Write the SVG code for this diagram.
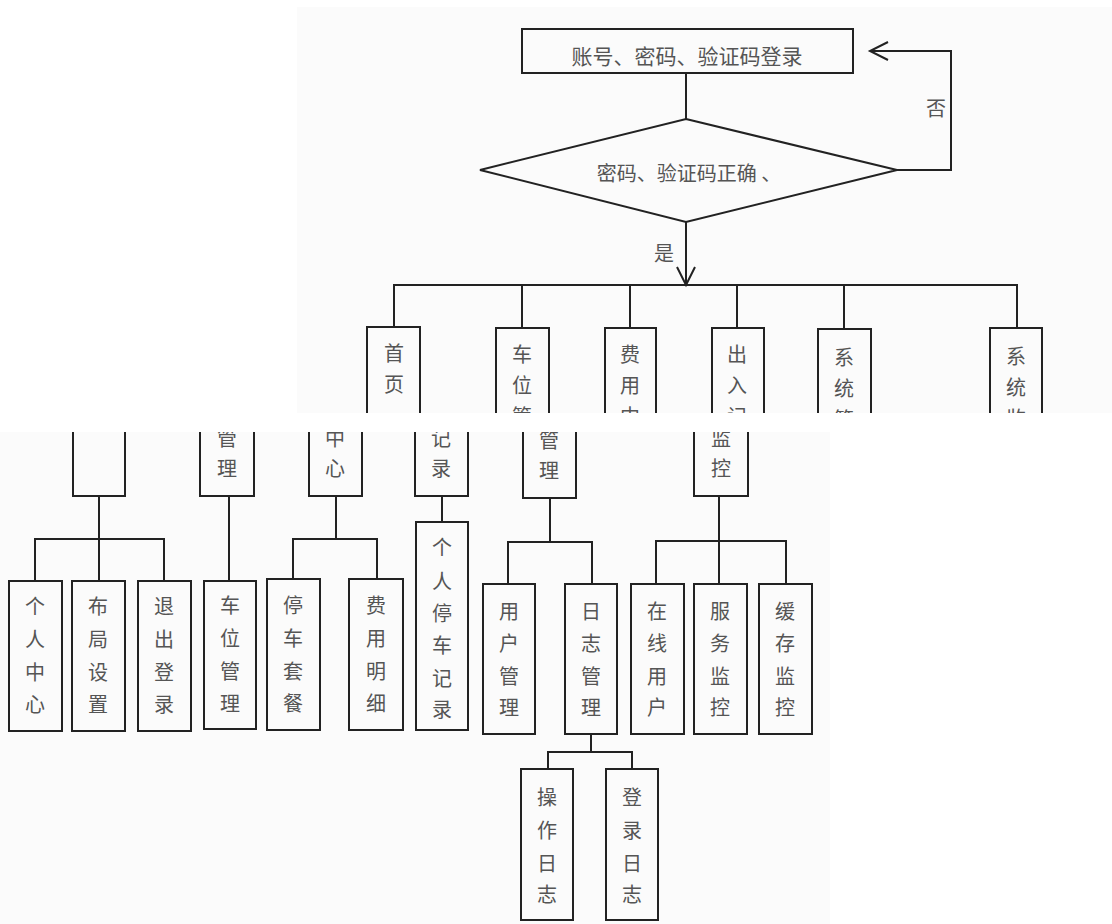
<svg xmlns="http://www.w3.org/2000/svg" width="1112" height="924" viewBox="0 0 1112 924">
<style>
.bx{fill:none;stroke:#222;stroke-width:2}
.ln{fill:none;stroke:#222;stroke-width:2}
.t{font-family:"Noto Sans CJK SC","Noto Sans",sans-serif;fill:#555;font-size:20px;text-anchor:middle;dominant-baseline:central}
.tl{font-size:21px}
</style>
<defs>
<clipPath id="cTop"><rect x="297" y="7" width="815" height="406"/></clipPath>
<clipPath id="cBot"><rect x="0" y="432" width="830" height="492"/></clipPath>
</defs>
<rect width="1112" height="924" fill="#fff"/>
<rect x="297" y="7" width="815" height="406" fill="#fbfbfb"/>
<rect x="0" y="432" width="830" height="492" fill="#fbfbfb"/>

<g clip-path="url(#cTop)">
<g id="connectors-top">
<line class="ln" x1="686" y1="73" x2="686" y2="119"/>
<polyline class="ln" points="897,170 951,170 951,51 871,51"/>
<path class="ln" d="M888,42 L870,51 L888,60"/>
<line class="ln" x1="686" y1="222" x2="686" y2="285"/>
<path class="ln" d="M677,267 L686,285 L695,267"/>
<polyline class="ln" points="394,327 394,285 1017,285 1017,328"/>
<line class="ln" x1="522" y1="285" x2="522" y2="328"/>
<line class="ln" x1="630" y1="285" x2="630" y2="328"/>
<line class="ln" x1="737" y1="285" x2="737" y2="328"/>
<line class="ln" x1="844" y1="285" x2="844" y2="329"/>
<text class="t" x="936" y="107">否</text>
<text class="t" x="664" y="252">是</text>
</g>
<g id="login">
<rect class="bx" x="522" y="29" width="331" height="44"/>
<text class="t tl" x="687" y="55">账号、密码、验证码登录</text>
</g>
<g id="check">
<polygon class="bx" points="686,119 897,170 686,222 480,170"/>
<text class="t" x="689" y="172">密码、验证码正确 、</text>
</g>
<g id="home-top">
<rect class="bx" x="367" y="327" width="53" height="120"/>
<text class="t" x="394" y="352">首</text><text class="t" x="394" y="383">页</text>
</g>
<g id="space-top">
<rect class="bx" x="496" y="328" width="53" height="120"/>
<text class="t" x="522" y="353">车</text><text class="t" x="522" y="384">位</text><text class="t" x="522" y="415">管</text>
</g>
<g id="fee-top">
<rect class="bx" x="605" y="328" width="51" height="120"/>
<text class="t" x="630" y="353">费</text><text class="t" x="630" y="384">用</text><text class="t" x="630" y="415">中</text>
</g>
<g id="inout-top">
<rect class="bx" x="712" y="328" width="52" height="120"/>
<text class="t" x="737" y="353">出</text><text class="t" x="737" y="384">入</text><text class="t" x="737" y="415">记</text>
</g>
<g id="sysmgr-top">
<rect class="bx" x="818" y="329" width="53" height="120"/>
<text class="t" x="844" y="356">系</text><text class="t" x="844" y="387">统</text><text class="t" x="844" y="418">管</text>
</g>
<g id="sysmon-top">
<rect class="bx" x="990" y="328" width="52" height="120"/>
<text class="t" x="1016" y="355">系</text><text class="t" x="1016" y="386">统</text><text class="t" x="1016" y="417">监</text>
</g>
</g>

<g clip-path="url(#cBot)">
<g id="connectors-bottom">
<polyline class="ln" points="99,496 99,539"/>
<polyline class="ln" points="35,581 35,539 164,539 164,581"/>
<line class="ln" x1="99" y1="539" x2="99" y2="581"/>
<line class="ln" x1="229" y1="496" x2="229" y2="581"/>
<line class="ln" x1="336" y1="496" x2="336" y2="539"/>
<polyline class="ln" points="293,579 293,539 377,539 377,579"/>
<line class="ln" x1="442" y1="496" x2="442" y2="522"/>
<line class="ln" x1="550" y1="498" x2="550" y2="542"/>
<polyline class="ln" points="508,584 508,542 592,542 592,584"/>
<line class="ln" x1="719" y1="496" x2="719" y2="584"/>
<polyline class="ln" points="656,584 656,541 786,541 786,584"/>
<line class="ln" x1="591" y1="734" x2="591" y2="752"/>
<polyline class="ln" points="548,769 548,752 632,752 632,769"/>
</g>
<g id="home">
<rect class="bx" x="73" y="400" width="52" height="96"/>
</g>
<g id="space">
<rect class="bx" x="200" y="400" width="54" height="96"/>
<text class="t" x="227" y="437">管</text><text class="t" x="227" y="467">理</text>
</g>
<g id="fee">
<rect class="bx" x="309" y="400" width="53" height="96"/>
<text class="t" x="335" y="437">中</text><text class="t" x="335" y="467">心</text>
</g>
<g id="inout">
<rect class="bx" x="415" y="400" width="53" height="96"/>
<text class="t" x="441" y="437">记</text><text class="t" x="441" y="467">录</text>
</g>
<g id="sysmgr">
<rect class="bx" x="523" y="400" width="53" height="98"/>
<text class="t" x="549" y="439">管</text><text class="t" x="549" y="469">理</text>
</g>
<g id="sysmon">
<rect class="bx" x="694" y="400" width="54" height="96"/>
<text class="t" x="721" y="437">监</text><text class="t" x="721" y="467">控</text>
</g>
</g>

<g id="personal">
<rect class="bx" x="9" y="581" width="53" height="150"/>
<text class="t" x="35" y="605">个</text><text class="t" x="35" y="638">人</text><text class="t" x="35" y="671">中</text><text class="t" x="35" y="703">心</text>
</g>
<g id="layout">
<rect class="bx" x="72" y="581" width="53" height="150"/>
<text class="t" x="98" y="605">布</text><text class="t" x="98" y="638">局</text><text class="t" x="98" y="671">设</text><text class="t" x="98" y="703">置</text>
</g>
<g id="logout">
<rect class="bx" x="138" y="581" width="53" height="150"/>
<text class="t" x="164" y="605">退</text><text class="t" x="164" y="638">出</text><text class="t" x="164" y="671">登</text><text class="t" x="164" y="703">录</text>
</g>
<g id="space-mgr">
<rect class="bx" x="204" y="581" width="52" height="148"/>
<text class="t" x="230" y="604">车</text><text class="t" x="230" y="637">位</text><text class="t" x="230" y="670">管</text><text class="t" x="230" y="702">理</text>
</g>
<g id="package">
<rect class="bx" x="267" y="579" width="53" height="151"/>
<text class="t" x="293" y="604">停</text><text class="t" x="293" y="637">车</text><text class="t" x="293" y="670">套</text><text class="t" x="293" y="702">餐</text>
</g>
<g id="fee-detail">
<rect class="bx" x="349" y="579" width="54" height="151"/>
<text class="t" x="376" y="604">费</text><text class="t" x="376" y="637">用</text><text class="t" x="376" y="670">明</text><text class="t" x="376" y="702">细</text>
</g>
<g id="park-record">
<rect class="bx" x="416" y="522" width="52" height="208"/>
<text class="t" x="442" y="546">个</text><text class="t" x="442" y="580">人</text><text class="t" x="442" y="612">停</text><text class="t" x="442" y="644">车</text><text class="t" x="442" y="677">记</text><text class="t" x="442" y="708">录</text>
</g>
<g id="user-mgr">
<rect class="bx" x="483" y="584" width="52" height="150"/>
<text class="t" x="509" y="610">用</text><text class="t" x="509" y="642">户</text><text class="t" x="509" y="675">管</text><text class="t" x="509" y="706">理</text>
</g>
<g id="log-mgr">
<rect class="bx" x="565" y="584" width="52" height="150"/>
<text class="t" x="591" y="610">日</text><text class="t" x="591" y="642">志</text><text class="t" x="591" y="675">管</text><text class="t" x="591" y="706">理</text>
</g>
<g id="online">
<rect class="bx" x="631" y="584" width="53" height="150"/>
<text class="t" x="657" y="610">在</text><text class="t" x="657" y="642">线</text><text class="t" x="657" y="675">用</text><text class="t" x="657" y="706">户</text>
</g>
<g id="service">
<rect class="bx" x="694" y="584" width="53" height="150"/>
<text class="t" x="720" y="610">服</text><text class="t" x="720" y="642">务</text><text class="t" x="720" y="675">监</text><text class="t" x="720" y="706">控</text>
</g>
<g id="cache">
<rect class="bx" x="759" y="584" width="53" height="150"/>
<text class="t" x="785" y="610">缓</text><text class="t" x="785" y="642">存</text><text class="t" x="785" y="675">监</text><text class="t" x="785" y="706">控</text>
</g>
<g id="op-log">
<rect class="bx" x="521" y="769" width="52" height="151"/>
<text class="t" x="547" y="796">操</text><text class="t" x="547" y="829">作</text><text class="t" x="547" y="862">日</text><text class="t" x="547" y="893">志</text>
</g>
<g id="login-log">
<rect class="bx" x="606" y="769" width="52" height="151"/>
<text class="t" x="632" y="796">登</text><text class="t" x="632" y="829">录</text><text class="t" x="632" y="862">日</text><text class="t" x="632" y="893">志</text>
</g>
</svg>
